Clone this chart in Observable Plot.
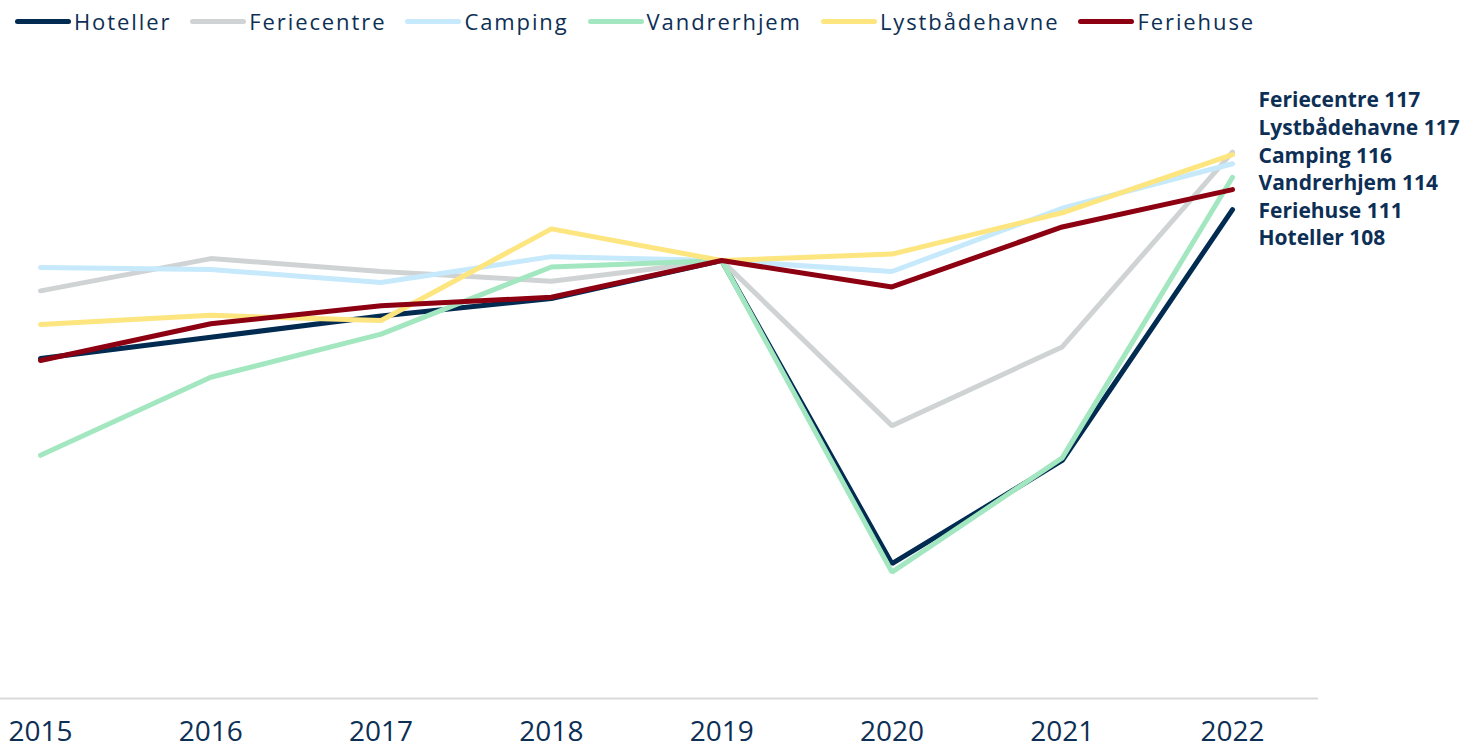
<!DOCTYPE html>
<html>
<head>
<meta charset="utf-8">
<script src="https://cdn.jsdelivr.net/npm/d3@7"></script>
<script src="https://cdn.jsdelivr.net/npm/@observablehq/plot@0.6"></script>
<style>
  html, body { margin: 0; padding: 0; background: #fff; }
  #legend { height: 42px; display: flex; align-items: center; padding-left: 15px; box-sizing: border-box;
    font-family: "Open Sans", sans-serif; font-size: 22px; color: #0d2f55; letter-spacing: 1.9px; }
  .item { display: flex; align-items: center; margin-right: 19px; }
  .sw { width: 56px; height: 5px; border-radius: 3px; margin-right: 3px; }
  #chart svg { display: block; }
</style>
</head>
<body>
<div id="legend"></div>
<div id="chart"></div>
<script>
const years = [2015, 2016, 2017, 2018, 2019, 2020, 2021, 2022];
const seriesNames = ["Hoteller", "Feriecentre", "Camping", "Vandrerhjem", "Lystbådehavne", "Feriehuse"];
const colors = ["#012b51", "#d0d3d4", "#c6e9fc", "#a3e7c0", "#fde57f", "#8c0011"];
const hoteller      = [84.8, 88.1, 91.4, 94.1, 100, 53.0, 69.0, 107.9];
const feriecentre   = [95.3, 100.3, 98.3, 96.8, 100, 74.4, 86.6, 116.8];
const camping       = [98.9, 98.6, 96.6, 100.6, 100, 98.3, 108.1, 115.0];
const vandrerhjem   = [69.8, 81.9, 88.6, 99.0, 100, 51.7, 69.4, 112.9];
const lystbaadehavne= [90.1, 91.5, 90.7, 104.9, 100, 101.0, 107.4, 116.4];
const feriehuse     = [84.5, 90.2, 93.0, 94.3, 100, 95.9, 105.2, 111.0];
const endLabels = ["Feriecentre 117", "Lystbådehavne 117", "Camping 116", "Vandrerhjem 114", "Feriehuse 111", "Hoteller 108"];
const labelY = 114.4;

const allSeries = [hoteller, feriecentre, camping, vandrerhjem, lystbaadehavne, feriehuse];
const rows = [];
seriesNames.forEach((name, i) => {
  years.forEach((yr, j) => rows.push({ series: name, year: yr, value: allSeries[i][j] }));
});

// legend
const legend = document.getElementById("legend");
seriesNames.forEach((name, i) => {
  const it = document.createElement("div");
  it.className = "item";
  const sw = document.createElement("div");
  sw.className = "sw";
  sw.style.background = colors[i];
  const tx = document.createElement("span");
  tx.textContent = name;
  it.appendChild(sw); it.appendChild(tx);
  legend.appendChild(it);
});

const yMin = 32.1, yMax = 132.25;
const chart = Plot.plot({
  width: 1466,
  height: 705,
  marginLeft: 0,
  marginRight: 148,
  marginTop: 10,
  marginBottom: 49,
  style: { fontFamily: "Open Sans, sans-serif", color: "#0d2f55", background: "#fff", overflow: "visible" },
  x: { type: "linear", domain: [2014.765, 2022.505], ticks: years, tickFormat: d => String(d), tickSize: 0, tickPadding: 23, label: null },
  y: { domain: [yMin, yMax], axis: null },
  color: { domain: seriesNames, range: colors },
  marks: [
    Plot.ruleY([yMin], { stroke: "#d9d9d9", strokeWidth: 2 }),
    Plot.axisX({ ticks: years, tickFormat: d => String(d), tickSize: 0, tickPadding: 23, fontSize: 28, fill: "#0d2f55", label: null, style: { letterSpacing: "-0.5px" } }),
    ...seriesNames.map((name, i) => Plot.line(rows.filter(r => r.series === name), {
      x: "year", y: "value", stroke: colors[i], strokeWidth: 5, strokeLinecap: "round", strokeLinejoin: "miter"
    })),
    Plot.text([endLabels.join("\n")], {
      x: years[years.length - 1], y: labelY, text: d => d, textAnchor: "start", dx: 26,
      lineAnchor: "middle", lineHeight: 1.314, fontSize: 21, fontWeight: "bold", fill: "#0d2f55"
    })
  ]
});
document.getElementById("chart").appendChild(chart);
</script>
</body>
</html>
